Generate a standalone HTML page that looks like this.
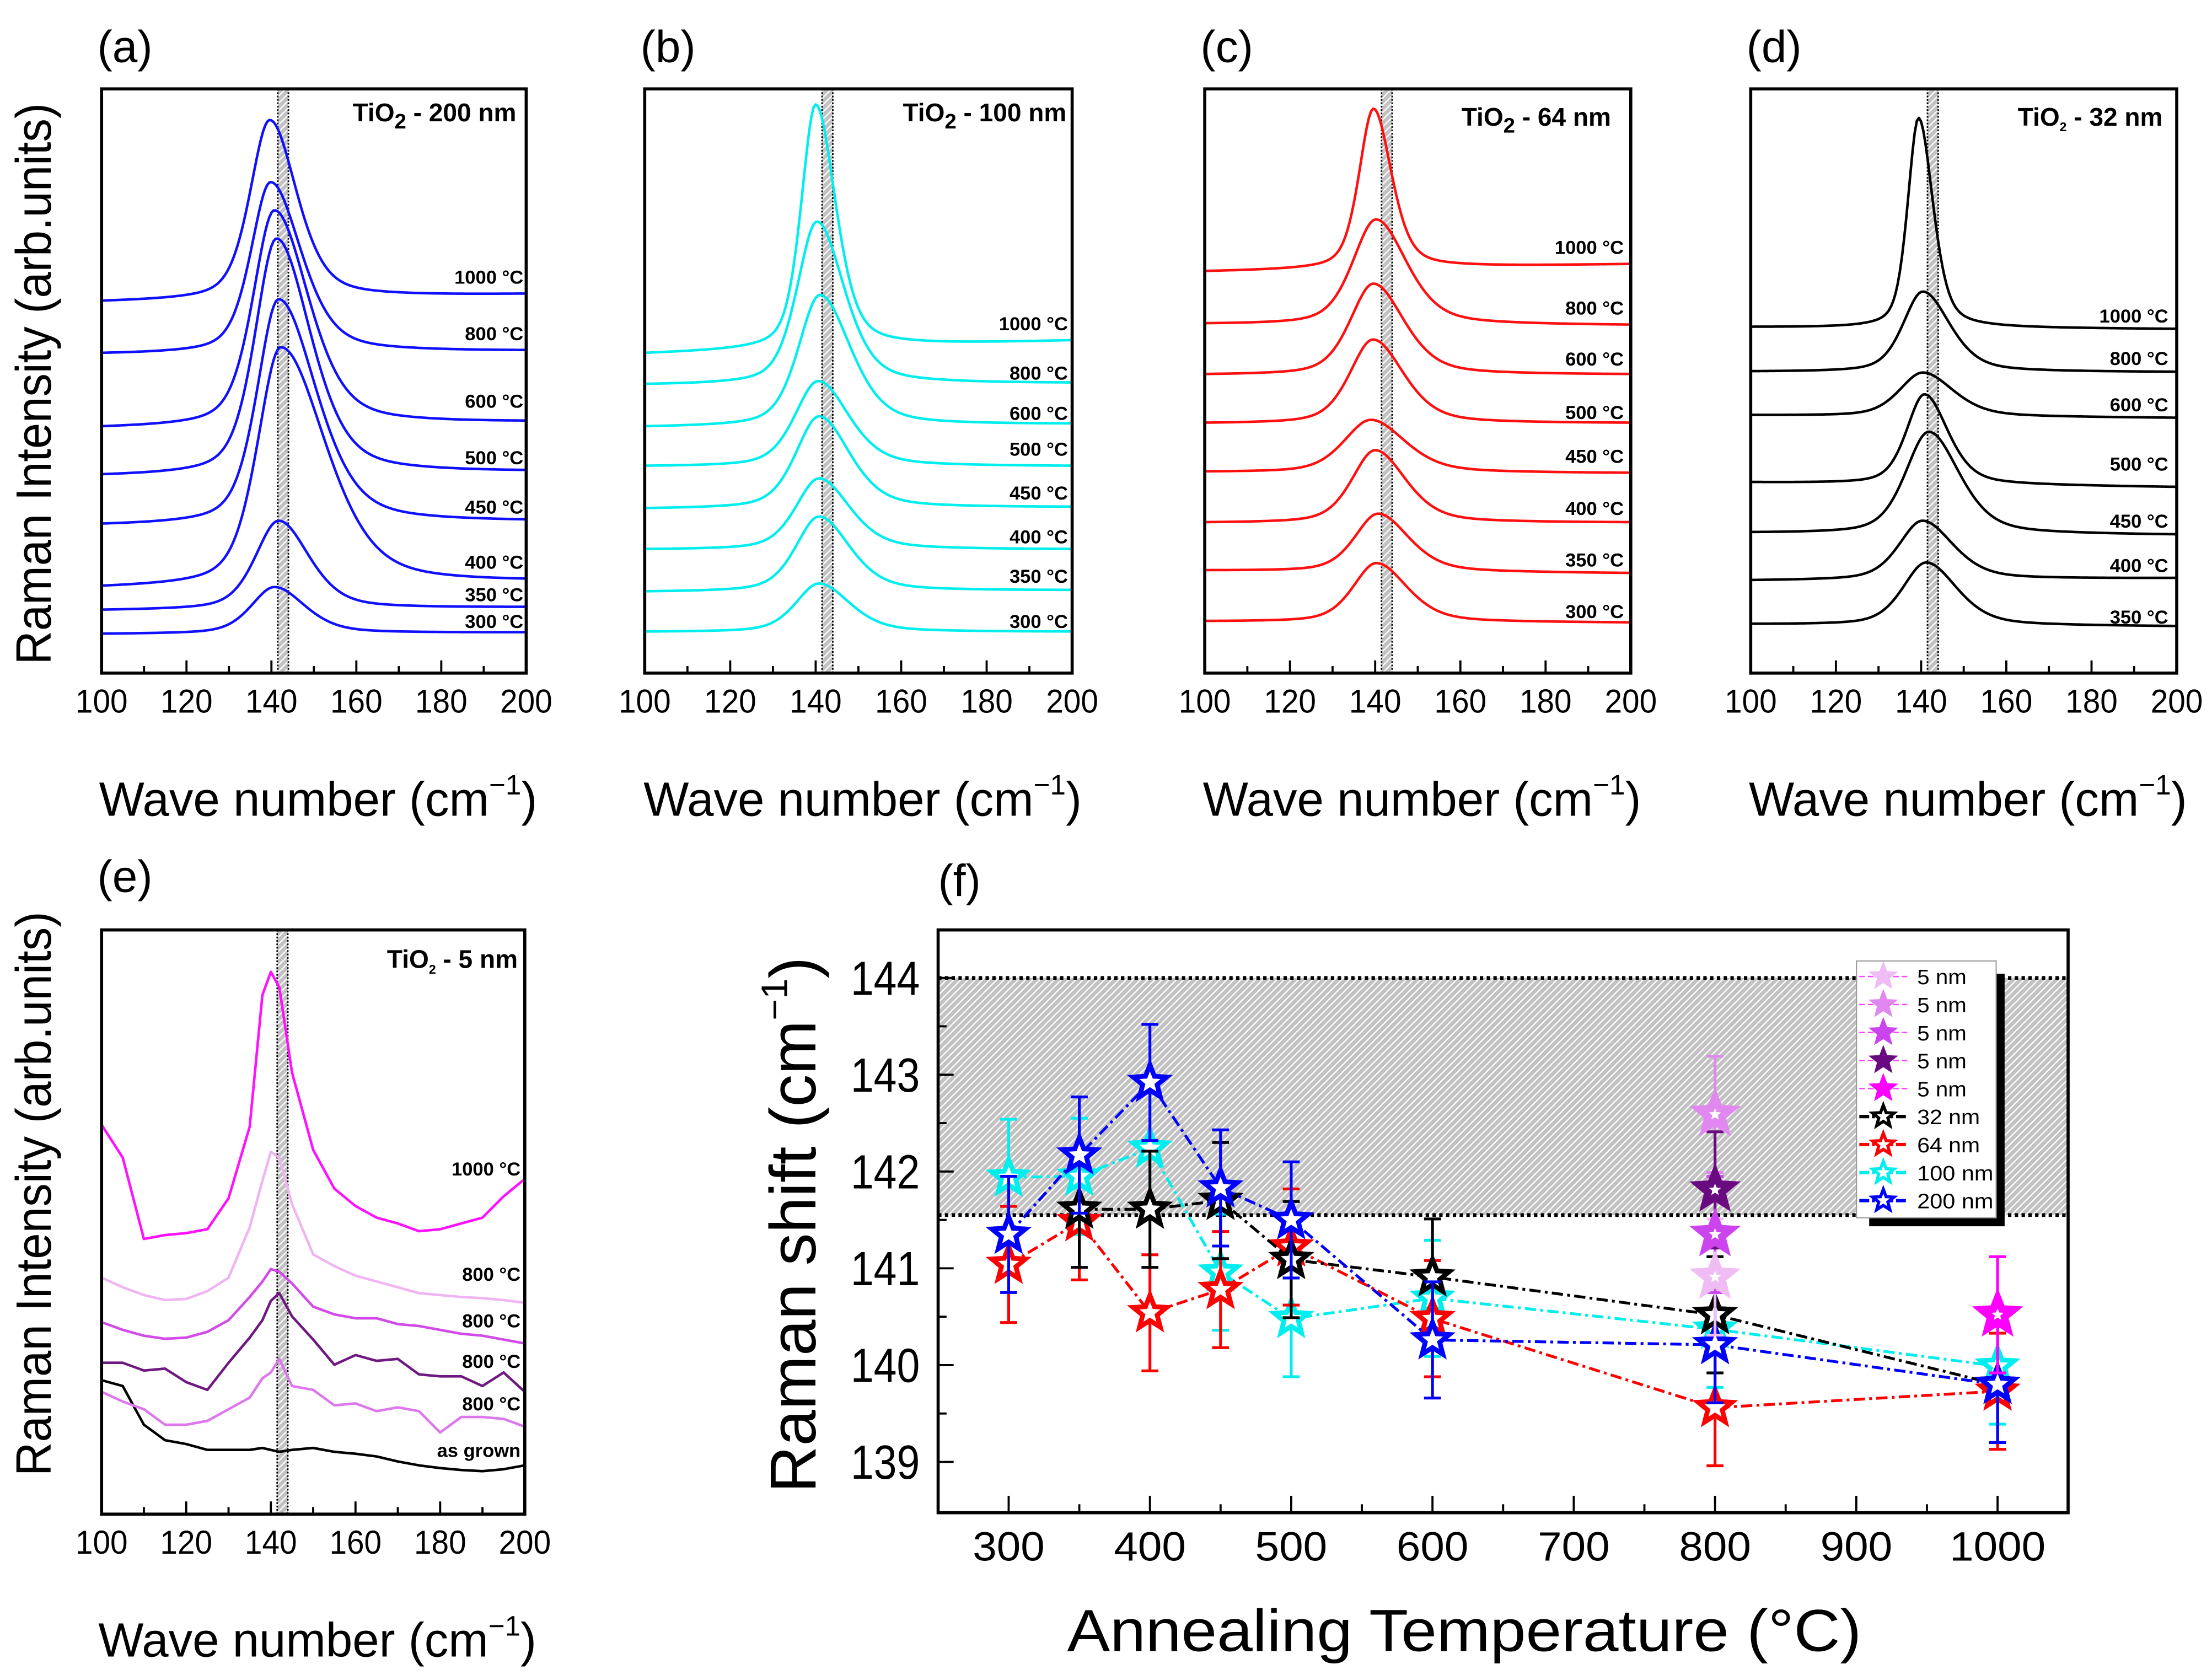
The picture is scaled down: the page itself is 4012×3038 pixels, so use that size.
<!DOCTYPE html>
<html>
<head>
<meta charset="utf-8">
<style>
html,body{margin:0;padding:0;background:#fff}
svg{display:block}
text{font-family:"Liberation Sans",Arial,sans-serif;fill:#000}
</style>
</head>
<body>
<svg id="fig" xmlns="http://www.w3.org/2000/svg" width="4012" height="3038" viewBox="0 0 1568 1187" preserveAspectRatio="none">
<defs>
<pattern id="hatch" patternUnits="userSpaceOnUse" width="3.6" height="3.6" patternTransform="rotate(45)">
<rect x="0" y="0" width="3.6" height="3.6" fill="#c2c2c2"/>
<line x1="0.6" y1="0" x2="0.6" y2="3.6" stroke="#ffffff" stroke-width="0.9"/>
</pattern>
</defs>
<rect x="0" y="0" width="1568" height="1187" fill="#ffffff"/>
</svg>
<script>
// ---------- data: spectra panels (intensity in arb. units) ----------
const topTempLabels = ['1000 °C','800 °C','600 °C','500 °C','450 °C','400 °C','350 °C','300 °C'];
const dTempLabels = ['1000 °C','800 °C','600 °C','500 °C','450 °C','400 °C','350 °C'];

const aCenter=[139.6,139.8,140.7,141.2,141.7,142.2,141.7,140.7];
const aPeak=[395,351,331,311,268,234,111,64];
const aLeft=[267,230,178,144,109,65,48,31];
const aRight=[272,232,182,147,112,70,50,32];
const aWL=[5.5,5.5,6,6,6,6.5,6.5,6.5];
const aWR=[7.5,8.5,9.5,9.5,10.5,12.5,8.5,8.5];
const aLabel=[284,244,196,156,121,82,59,40];

const bCenter=[140.0,140.3,141.0,140.6,140.8,140.8,140.8,140.8];
const bPeak=[406,323,271,210,185,141,114,66.5];
const bLeft=[230,208,178,150,120,91,61,32.5];
const bRight=[239,209,180,150,121,91,62,32.5];
const bWL=[4,5.5,6,6.5,6.5,6.5,6.5,6.5];
const bWR=[5.5,7.5,8.5,8.5,8.5,8.5,8.5,8.5];
const bLabel=[251,216,187.5,162,131,100,72,40];

const cCenter=[139.6,140.2,139.6,139.5,139.0,140.0,140.7,140.3];
const cPeak=[403,324.5,279,239.4,182.5,161,116,81];
const cLeft=[288,251,215,180.5,146,110,76,40];
const cRight=[293,250,215,180.5,145,110,74,39];
const cWL=[4,6.5,6.5,6.5,7.5,6.5,6.5,6.5];
const cWR=[5,8.5,8.5,8.5,9.5,8.5,8.5,8.5];
const cLabel=[305,262,226,188,157,120,83.5,47];

const dCenter=[139.4,140.4,140.4,140.8,141.8,140.3,141.2];
const dPeak=[396.5,273.4,216,200.6,174,111,81.4];
const dLeft=[248.5,217,186,138.5,103,69,38];
const dRight=[247,216.6,184,135,101.4,70.5,36.4];
const dWL=[3,5.5,6.5,5,6.5,6.5,6.5];
const dWR=[4,7.5,8.5,6.5,8.5,8.5,8.5];
const dLabel=[256.4,226.3,193.5,151.6,111,79.6,43];

// panel e (5 nm)
const eWave=[100,105,110,115,120,125,130,135,138,140,142,145,150,155,160,165,170,175,180,185,190,195,200];
const e1000=[104.5,96,75,76,76.5,77.5,85.5,104,138,144,140,118,98,88,83.5,80.5,79,77,77.5,79,80.5,86,90.5];
const e800a=[65,62.5,60.5,59.2,59.5,61.5,65,78,90,97.5,96,84,71,68,65.5,64,62.5,61,60.5,60,59.7,59.2,58.5];
const e800b=[53.5,51.5,50,49.2,49.5,51,54,60,64,67.2,66.5,63.5,57.5,55.5,54.5,54.5,53,52.5,51.5,50.5,50,49,48];
const e800c=[43,43,41,41.5,38,36,43,49.5,54,59,61,55,49,42.5,45,43.5,44,40,39.5,39.5,37,40.5,35.5];
const e800d=[35.5,33,31,27,27,28,31,34,39,40.5,44,37,36,32,32.5,30.5,31.5,30.5,25,29,29,28.5,26.5];
const eGrown=[38.5,37,27,23,22,20.5,20.5,20.5,21,20.5,20,20.5,21,20,19.5,18.8,17.5,16.5,15.8,15.3,15,15.5,16.5];
const eLabelText=['1000 °C','800 °C','800 °C','800 °C','800 °C','as grown'];
const eLabel=[93.2,66,54,43.5,32.5,20.5];

const waveTicks=[100,120,140,160,180,200];

// ---------- data: panel f ----------
const annealT=[300,350,400,450,500,600,800,1000];
const shift200=[141.35,142.17,142.92,141.83,141.50,140.26,140.21,139.80];
const err200=[0.6,0.6,0.6,0.6,0.6,0.6,0.6,0.6];
const shift100=[141.94,141.95,142.24,140.96,140.48,140.69,140.37,139.99];
const err100=[0.6,0.6,0.6,0.6,0.6,0.6,0.6,0.6];
const shift64=[141.04,141.48,140.54,140.78,141.22,140.48,139.56,139.73];
const err64=[0.6,0.6,0.6,0.6,0.6,0.6,0.6,0.6];
const annealT32=[350,400,450,500,600,800,1000];
const shift32=[141.61,141.61,141.70,141.09,140.91,140.52,139.80];
const err32=[0.6,0.6,0.6,0.6,0.6,0.6,0.6];
const fiveNmT=[800,800,800,800,1000];
const fiveNmShift=[140.91,142.59,141.35,141.81,140.52];
const fiveNmErr=[0.6,0.6,0.6,0.6,0.6];
const fiveNmColors=['#f0bcf4','#e088f0','#cc44ee','#6a0a80','#ff00ff'];
const fTicksX=[300,400,500,600,700,800,900,1000];
const fTicksY=[139,140,141,142,143,144];
const bandLow=141.55, bandHigh=144;
const legendLabels=['5 nm','5 nm','5 nm','5 nm','5 nm','32 nm','64 nm','100 nm','200 nm'];

// ---------- helpers ----------
const NS='http://www.w3.org/2000/svg';
const svg=document.getElementById('fig');
function mk(tag,parent){const e=document.createElementNS(NS,tag);parent.appendChild(e);return e;}
function at(e,o){for(const k in o)e.setAttribute(k,o[k]);return e;}
function txt(parent,x,y,s,size,extra){const t=mk('text',parent);at(t,{x:x,y:y,'font-size':size});if(extra)at(t,extra);t.textContent=s;return t;}

function drawFrameAxes(g,geo){
  const band=mk('rect',g);
  at(band,{x:geo.xs(141.5),y:geo.y0,width:geo.xs(144)-geo.xs(141.5),height:geo.y1-geo.y0,fill:'url(#hatch)'});
  
  
  [141.5,144].forEach(v=>{
    const l=mk('line',g);
    at(l,{x1:geo.xs(v),x2:geo.xs(v),y1:geo.y0,y2:geo.y1,stroke:'#000','stroke-width':1.1,'stroke-dasharray':'1.2 1.2'});
    
    
  });
  for(let w=100;w<=200;w+=10){
    const major=(w%20===0);
    const t=mk('line',g);
    at(t,{x1:geo.xs(w),x2:geo.xs(w),y1:geo.y1,y2:geo.y1-(major?9:5),stroke:'#000','stroke-width':1.5});
    
    
  }
  waveTicks.forEach(w=>{
    const t=txt(g,geo.xs(w),geo.y1+28,String(w),23.5,{'text-anchor':'middle',textLength:37,lengthAdjust:'spacingAndGlyphs'});
    
    
  });
}
function drawFrame(g,geo){
  const f=mk('rect',g);
  at(f,{x:geo.x0,y:geo.y0,width:geo.x1-geo.x0,height:geo.y1-geo.y0,fill:'none',stroke:'#000','stroke-width':2.2});
  
  
}
function drawTitle(g,x,y,nm,bigSub){
  const t=txt(g,x,y,'',18,{'text-anchor':'end','font-weight':'bold'});
  
  
  const s1=mk('tspan',t);s1.textContent='TiO';
  const s2=mk('tspan',t);at(s2,{'font-size':bigSub?15:9,dy:bigSub?5:4});s2.textContent='2';
  const s3=mk('tspan',t);at(s3,{dy:bigSub?-5:-4});s3.textContent=' - '+nm;
}
function shape(u){ // pseudo-Voigt, u = (w-c)/hwhm
  return 0.55*Math.exp(-0.693*u*u)+0.45/(1+u*u);
}
function spectrum(w,c,P,L,R,wl,wr){
  const base=x=>L+(R-L)*(x-100)/100;
  const H=P-base(c);
  const ww=w<c?wl:wr;
  const edge=w<c?(c-100):(200-c);
  const fe=shape(edge/ww);
  const f=shape((w-c)/ww);
  return base(w)+H*(f-fe)/(1-fe);
}
function drawTopPanel(id,geo,C,P,L,R,WL,WR,LAB,labels,color,title,bigSub,letter){
  const g=mk('g',svg);
  
  
  drawFrameAxes(g,geo);
  for(let i=0;i<C.length;i++){
    let d='';
    for(let w=100;w<=200.001;w+=0.5){
      const v=spectrum(w,C[i],P[i],L[i],R[i],WL[i],WR[i]);
      d+=(w===100?'M':'L')+geo.xs(w).toFixed(2)+' '+geo.ys(v).toFixed(2);
    }
    const p=mk('path',g);
    at(p,{d:d,fill:'none',stroke:color,'stroke-width':1.8,'stroke-linejoin':'round'});
    
    
    const t=txt(g,geo.labelX,geo.ys(LAB[i])+5,labels[i],13.5,{'text-anchor':'end','font-weight':'bold'});
    
    
  }
  drawFrame(g,geo);
  drawTitle(g,geo.titleX,geo.titleY,title,bigSub);
  const lt=txt(g,geo.x0-3,44,letter,32);
  
  
  const xt=txt(g,(geo.x0+geo.x1)/2+3,geo.y1+101,'',34,{'text-anchor':'middle'});
  
  
  const a1=mk('tspan',xt);a1.textContent='Wave number (cm';
  const a2=mk('tspan',xt);at(a2,{'font-size':20,dy:-15});a2.textContent='−1';
  const a3=mk('tspan',xt);at(a3,{dy:15});a3.textContent=')';
}
function topGeo(x0,x1,labelX,titleX,titleY){
  return {x0:x0,x1:x1,y0:63,y1:477,labelX:labelX,titleX:titleX,titleY:titleY,
    xs:w=>x0+(w-100)/100*(x1-x0), ys:v=>480-v};
}

drawTopPanel('a',topGeo(72,373,371,366,86),aCenter,aPeak,aLeft,aRight,aWL,aWR,aLabel,topTempLabels,'#1010ff','200 nm',true,'(a)');
drawTopPanel('b',topGeo(457,760,757,756,86),bCenter,bPeak,bLeft,bRight,bWL,bWR,bLabel,topTempLabels,'#00eeee','100 nm',true,'(b)');
drawTopPanel('c',topGeo(854,1156,1151,1142,89),cCenter,cPeak,cLeft,cRight,cWL,cWR,cLabel,topTempLabels,'#ff1010','64 nm',true,'(c)');
drawTopPanel('d',topGeo(1241,1543,1537,1533,89),dCenter,dPeak,dLeft,dRight,dWL,dWR,dLabel,dTempLabels,'#000000','32 nm',false,'(d)');

// y title for top row
(function(){
  const t=txt(svg,0,0,'Raman Intensity (arb.units)',35,{transform:'translate(36,272) rotate(-90)','text-anchor':'middle',textLength:398,lengthAdjust:'spacingAndGlyphs'});
  
  
})();

// ---------- panel e ----------
(function(){
  const x0=72,x1=372;
  const geo={x0:x0,x1:x1,y0:659,y1:1073,xs:w=>x0+(w-100)/100*(x1-x0),ys:v=>1083.7-v*2.743};
  const g=mk('g',svg);
  
  
  drawFrameAxes(g,geo);
  const series=[e1000,e800a,e800b,e800c,e800d,eGrown];
  const colors=['#ff10ff','#f0b4f2','#d24ae8','#6e1880','#dc78ec','#000000'];
  const names=['spectrum-1000c','spectrum-800c-a','spectrum-800c-b','spectrum-800c-c','spectrum-800c-d','spectrum-as-grown'];
  for(let s=series.length-1;s>=0;s--){
    let d='';
    for(let i=0;i<eWave.length;i++){d+=(i?'L':'M')+geo.xs(eWave[i]).toFixed(2)+' '+geo.ys(series[s][i]).toFixed(2);}
    const p=mk('path',g);
    at(p,{d:d,fill:'none',stroke:colors[s],'stroke-width':1.8,'stroke-linejoin':'round'});
    
    
  }
  for(let i=0;i<eLabelText.length;i++){
    const t=txt(g,369,geo.ys(eLabel[i])+5,eLabelText[i],13.5,{'text-anchor':'end','font-weight':'bold'});
    
    
  }
  drawFrame(g,geo);
  drawTitle(g,367,686,'5 nm',false);
  const lt=txt(g,69,632,'(e)',32);
  
  
  const xt=txt(g,225,1174,'',34,{'text-anchor':'middle'});
  
  
  const a1=mk('tspan',xt);a1.textContent='Wave number (cm';
  const a2=mk('tspan',xt);at(a2,{'font-size':20,dy:-15});a2.textContent='−1';
  const a3=mk('tspan',xt);at(a3,{dy:15});a3.textContent=')';
  const yt=txt(svg,0,0,'Raman Intensity (arb.units)',35,{transform:'translate(36,846) rotate(-90)','text-anchor':'middle',textLength:400,lengthAdjust:'spacingAndGlyphs'});
  
  
})();

// ---------- panel f ----------
(function(){
  const fx0=665,fx1=1466,fy0=659,fy1=1072;
  const xs=T=>715+(T-300)*(1416-715)/700;
  const ys=v=>693+(144-v)*68.6;
  const g=mk('g',svg);
  
  
  const band=mk('rect',g);
  at(band,{x:fx0,y:ys(bandHigh),width:fx1-fx0,height:ys(bandLow)-ys(bandHigh),fill:'url(#hatch)'});
  
  
  [bandLow,bandHigh].forEach(v=>{
    const l=mk('line',g);
    at(l,{x1:fx0,x2:fx1,y1:ys(v),y2:ys(v),stroke:'#000','stroke-width':2.6,'stroke-dasharray':'2.4 2.4'});
    
    
  });
  for(let v=139;v<=144.01;v+=0.5){
    const major=Math.abs(v-Math.round(v))<0.01;
    const t=mk('line',g);
    at(t,{x1:fx0,x2:fx0+(major?11:6),y1:ys(v),y2:ys(v),stroke:'#000','stroke-width':1.5});
    
    
  }
  for(let T=300;T<=1000;T+=50){
    const major=(T%100===0);
    const t=mk('line',g);
    at(t,{x1:xs(T),x2:xs(T),y1:fy1,y2:fy1-(major?12:6),stroke:'#000','stroke-width':1.5});
    
    
  }
  fTicksY.forEach(v=>{
    const t=txt(g,652,ys(v)+12,String(v),34,{'text-anchor':'end',textLength:49,lengthAdjust:'spacingAndGlyphs'});
    
    
  });
  fTicksX.forEach(T=>{
    const s=String(T);
    const t=txt(g,xs(T),1106,s,29,{'text-anchor':'middle',textLength:s.length*17,lengthAdjust:'spacingAndGlyphs'});
    
    
  });
  function starD(cx,cy,R,r){
    let d='';
    for(let k=0;k<10;k++){
      const ang=-Math.PI/2+k*Math.PI/5;
      const rad=k%2?r:R;
      d+=(k?'L':'M')+(cx+rad*Math.cos(ang)).toFixed(2)+' '+(cy+rad*Math.sin(ang)).toFixed(2);
    }
    return d+'Z';
  }
  function drawSeries(name,Ts,Vs,Es,color){
    const sg=mk('g',g);
    
    
    const pl=mk('polyline',sg);
    at(pl,{points:Ts.map((T,i)=>xs(T).toFixed(2)+','+ys(Vs[i]).toFixed(2)).join(' '),fill:'none',stroke:color,'stroke-width':2,'stroke-dasharray':'8 3 2 3'});
    
    
    for(let i=0;i<Ts.length;i++){
      const x=xs(Ts[i]),yt=ys(Vs[i]+Es[i]),yb=ys(Vs[i]-Es[i]);
      const eb=mk('path',sg);
      at(eb,{d:'M'+x+' '+yt+'V'+yb+'M'+(x-6)+' '+yt+'H'+(x+6)+'M'+(x-6)+' '+yb+'H'+(x+6),stroke:color,'stroke-width':2,fill:'none'});
      
      
    }
    for(let i=0;i<Ts.length;i++){
      const st=mk('path',sg);
      at(st,{d:starD(xs(Ts[i]),ys(Vs[i]),12.5,5.4),fill:'#fff',stroke:color,'stroke-width':3.4,'stroke-linejoin':'miter'});
      
      
    }
  }
  drawSeries('100nm',annealT,shift100,err100,'#00eeee');
  drawSeries('64nm',annealT,shift64,err64,'#ff0000');
  drawSeries('32nm',annealT32,shift32,err32,'#000000');
  drawSeries('200nm',annealT,shift200,err200,'#0000ff');
  for(let i=0;i<fiveNmT.length;i++){
    const x=xs(fiveNmT[i]),yt=ys(fiveNmShift[i]+fiveNmErr[i]),yb=ys(fiveNmShift[i]-fiveNmErr[i]);
    const eb=mk('path',g);
    at(eb,{d:'M'+x+' '+yt+'V'+yb+'M'+(x-6)+' '+yt+'H'+(x+6)+'M'+(x-6)+' '+yb+'H'+(x+6),stroke:fiveNmColors[i],'stroke-width':2,fill:'none'});
    
    
  }
  for(let i=0;i<fiveNmT.length;i++){
    const cx=xs(fiveNmT[i]),cy=ys(fiveNmShift[i]);
    const st=mk('path',g);
    at(st,{d:starD(cx,cy,15,6.5),fill:fiveNmColors[i],stroke:fiveNmColors[i],'stroke-width':3,'stroke-linejoin':'miter'});
    
    
    const inner=mk('path',g);
    at(inner,{d:starD(cx,cy,4.5,2),fill:'#fff'});
    
    
  }
  const fr=mk('rect',g);
  at(fr,{x:fx0,y:fy0,width:fx1-fx0,height:fy1-fy0,fill:'none',stroke:'#000','stroke-width':2.2});
  
  

  const lg=mk('g',g);
  
  
  const sh=mk('path',lg);
  at(sh,{d:'M1415 690H1421V869H1325V863H1415Z',fill:'#000'});
  
  
  const lb=mk('rect',lg);
  at(lb,{x:1316,y:681,width:99,height:182,fill:'#fff',stroke:'#999','stroke-width':0.8});
  
  
  const legColors=fiveNmColors.concat(['#000000','#ff0000','#00eeee','#0000ff']);
  const legWidths=[35,35,35,35,35,44.5,44.5,54,54];
  for(let i=0;i<legendLabels.length;i++){
    const y=692+i*19.85;
    const eg=mk('g',lg);
    
    
    const five=i<5;
    const ln=mk('line',eg);
    at(ln,{x1:1318,x2:1352,y1:y,y2:y,stroke:five?'#ff44ff':legColors[i],'stroke-width':five?1:2.4,'stroke-dasharray':five?'4 2':'7 2 2 2'});
    
    
    const st=mk('path',eg);
    at(st,{d:starD(1335,y,8,3.4),fill:five?legColors[i]:'#fff',stroke:legColors[i],'stroke-width':2.2});
    
    
    const t=txt(eg,1359,y+5.5,legendLabels[i],15,{textLength:legWidths[i],lengthAdjust:'spacingAndGlyphs'});
    
    
  }

  const lt=txt(svg,665,635,'(f)',32);
  
  
  const xt=txt(svg,1038,1170,'Annealing Temperature (°C)',42,{'text-anchor':'middle',textLength:563,lengthAdjust:'spacingAndGlyphs'});
  
  
  const yt=txt(svg,0,0,'',46,{transform:'translate(578,868) rotate(-90)','text-anchor':'middle'});
  
  
  const b1=mk('tspan',yt);b1.textContent='Raman shift (cm';
  const b2=mk('tspan',yt);at(b2,{'font-size':26,dy:-20});b2.textContent='−1';
  const b3=mk('tspan',yt);at(b3,{dy:20});b3.textContent=')';
})();
</script>
</body>
</html>
